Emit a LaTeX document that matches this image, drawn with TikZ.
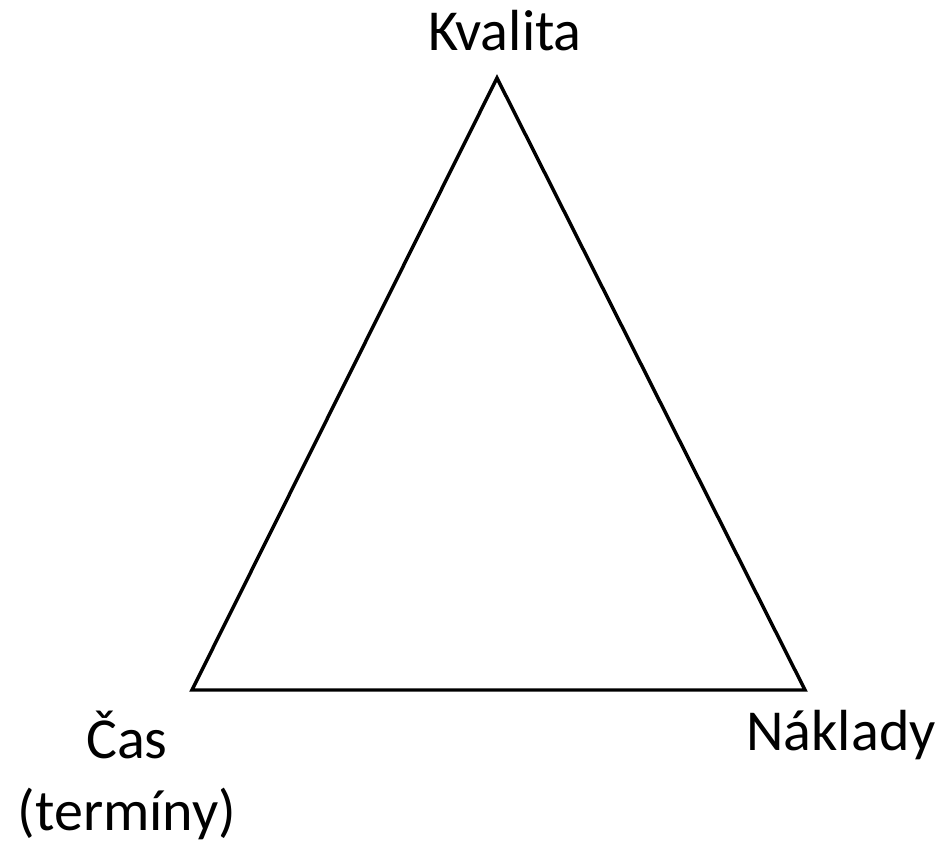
\documentclass[tikz,border=0pt]{standalone}
\usepackage{fontspec}
\setmainfont{Carlito}
\begin{document}
\begin{tikzpicture}[x=0.75pt, y=-0.75pt,
  vertexlabel/.style={anchor=base, inner sep=0pt, align=center,
    font=\fontsize{43.5}{54}\selectfont}]
\useasboundingbox (0,0) rectangle (943,843);
% vrcholy
\coordinate (kvalita) at (497,78);
\coordinate (cas) at (192,690);
\coordinate (naklady) at (805,690);
% trojuhelnik
\draw[line width=2.6pt, line join=miter] (kvalita) -- (naklady) -- (cas) -- cycle;
% popisky
\node[vertexlabel] (lkvalita) at (505,50) {Kvalita};
\node[vertexlabel] (lcas) at (127,830) {Čas\\(termíny)};
\node[vertexlabel] (lnaklady) at (841,750) {Náklady};
\end{tikzpicture}
\end{document}
